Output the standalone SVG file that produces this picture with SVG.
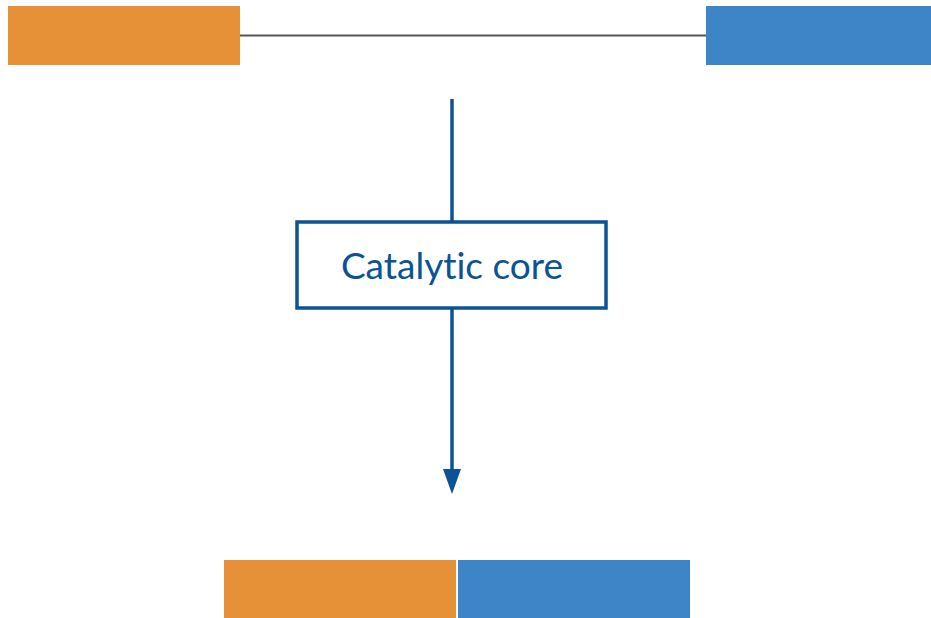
<svg xmlns="http://www.w3.org/2000/svg" width="931" height="618" viewBox="0 0 931 618">
<style>
.orange{fill:#e69138;}
.blue{fill:#3d85c6;}
.box{fill:#ffffff;stroke:#0b5394;stroke-width:3.5;}
.lbl{font-family:Lato,"Open Sans","Liberation Sans",sans-serif;font-size:37px;fill:#0b5394;text-anchor:middle;font-variant-ligatures:none;}
.flow{stroke:#0b5394;stroke-width:3.5;fill:none;}
.link{stroke:#555555;stroke-width:2;fill:none;}
</style>
<g id="connectors">
<line class="link" x1="240" y1="35.5" x2="706" y2="35.5"/>
<line class="flow" x1="452" y1="99" x2="452" y2="221"/>
<line class="flow" x1="452" y1="309" x2="452" y2="470"/>
<path d="M443,469 L461,469 L452,494 Z" fill="#0b5394"/>
</g>
<g id="node-top-left"><rect class="orange" x="8" y="6" width="232" height="59"/></g>
<g id="node-top-right"><rect class="blue" x="706" y="6" width="225" height="59"/></g>
<g id="node-core">
<rect class="box" x="297" y="222" width="309" height="86"/>
<text class="lbl" x="452" y="279">Catalytic core</text>
</g>
<g id="node-bottom-left"><rect class="orange" x="224" y="560" width="232" height="58"/></g>
<g id="node-bottom-right"><rect class="blue" x="458" y="560" width="232" height="58"/></g>
</svg>
